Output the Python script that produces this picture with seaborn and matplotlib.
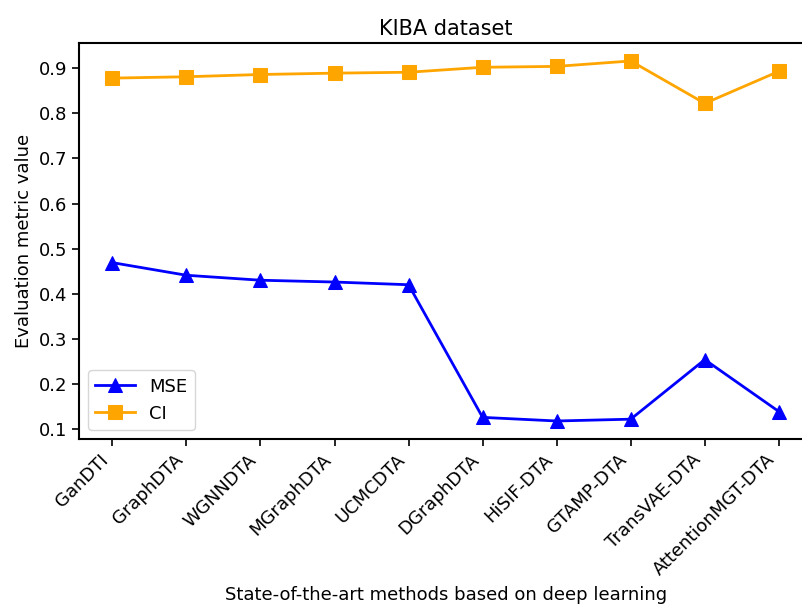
import matplotlib
matplotlib.use("Agg")
import matplotlib.pyplot as plt
import seaborn as sns
import pandas as pd

methods = ["GanDTI", "GraphDTA", "WGNNDTA", "MGraphDTA", "UCMCDTA", "DGraphDTA",
           "HiSIF-DTA", "GTAMP-DTA", "TransVAE-DTA", "AttentionMGT-DTA"]
mse = [0.469, 0.441, 0.430, 0.426, 0.420, 0.126, 0.118, 0.122, 0.254, 0.139]
ci = [0.878, 0.881, 0.886, 0.889, 0.891, 0.902, 0.904, 0.916, 0.822, 0.893]

df = pd.DataFrame({"method": methods, "MSE": mse, "CI": ci})

fig = plt.figure(figsize=(8.03, 6.06), dpi=100)
ax = fig.add_axes([0.0984, 0.2756, 0.913, 0.6535])

sns.lineplot(data=df, x="method", y="MSE", ax=ax, color="blue", marker="^",
             markersize=10, linewidth=2, markeredgecolor="blue", label="MSE", sort=False)
sns.lineplot(data=df, x="method", y="CI", ax=ax, color="orange", marker="s",
             markersize=9.5, linewidth=2, markeredgecolor="orange", label="CI", sort=False)

ax.set_title("KIBA dataset", fontsize=15)
ax.set_xlabel("State-of-the-art methods based on deep learning", fontsize=13)
ax.xaxis.set_label_coords(0.5, -0.372)
ax.set_ylabel("Evaluation metric value", fontsize=13)
ax.set_yticks([0.1, 0.2, 0.3, 0.4, 0.5, 0.6, 0.7, 0.8, 0.9])
ax.tick_params(axis="both", labelsize=13, width=1.2, length=5)
plt.setp(ax.get_xticklabels(), rotation=45, ha="right")
for s in ax.spines.values():
    s.set_linewidth(1.5)
ax.legend(loc="lower left", fontsize=13, handlelength=2.2)

fig.savefig("out.png", dpi=100)
